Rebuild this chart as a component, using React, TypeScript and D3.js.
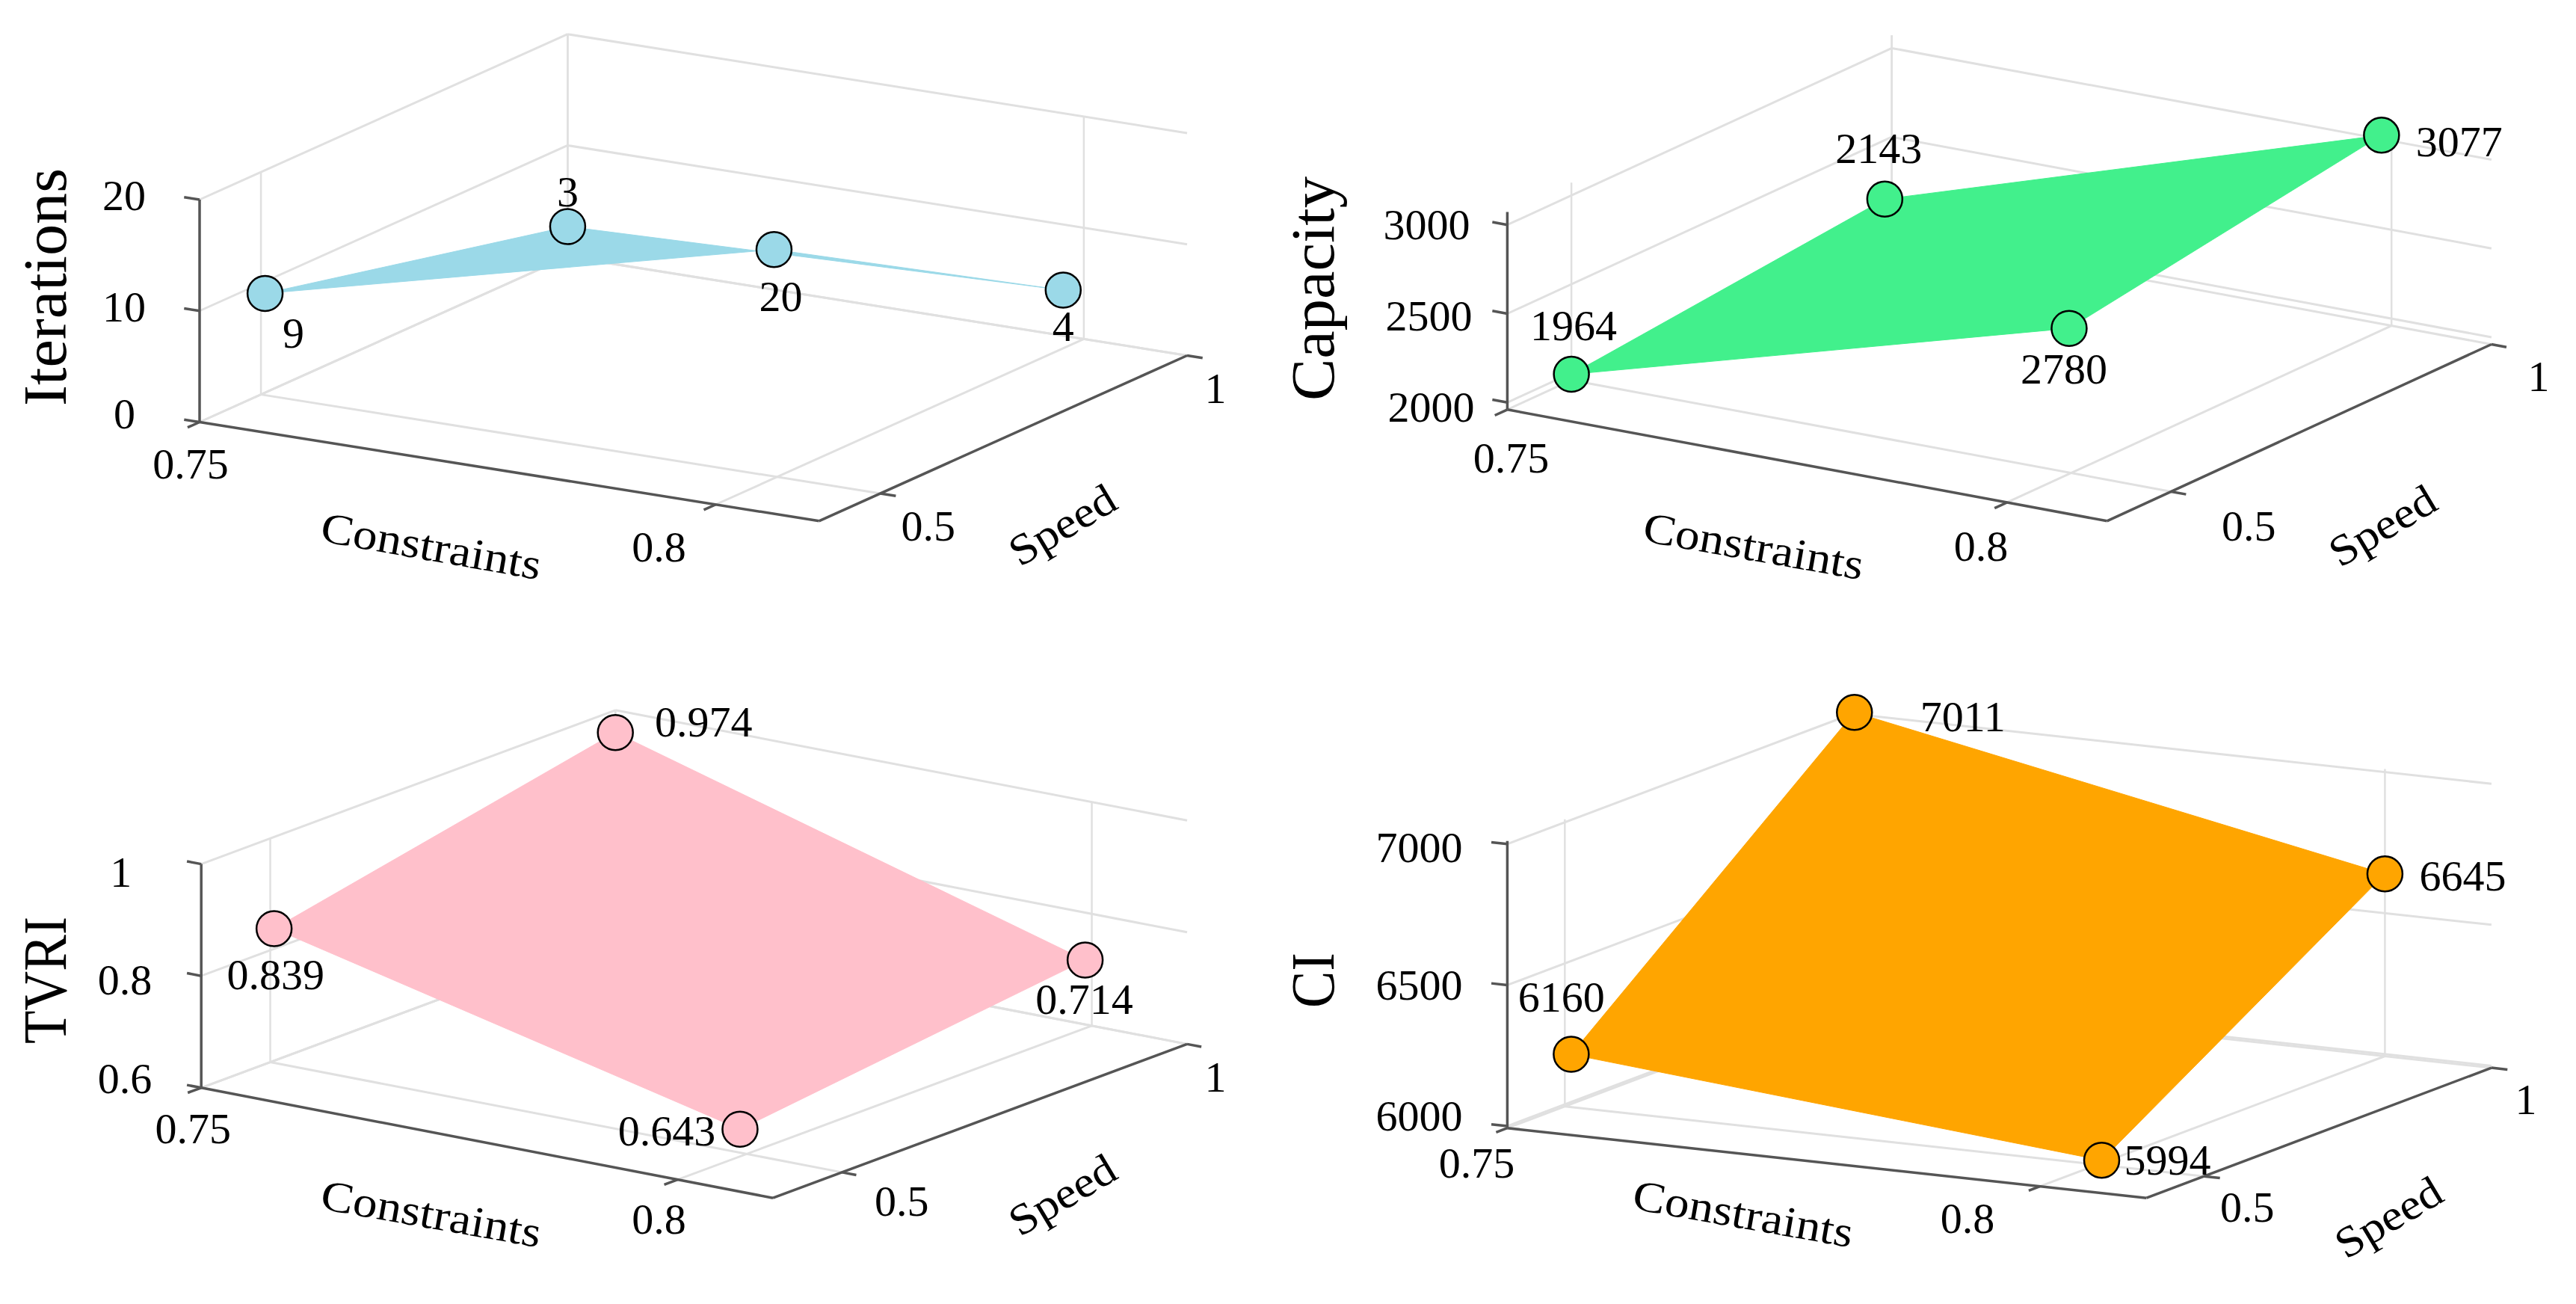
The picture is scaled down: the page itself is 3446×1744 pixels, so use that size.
import React from "react";
import * as d3 from "d3";

const svgWidth = 3446;
const svgHeight = 1744;
const fontFamily = "'Liberation Serif', serif";
const tickFont = 58;
const titleFont = 82;

// same grid in every panel
const constraintDomain = [0.75, 0.81];
const speedDomain = [0.4, 1];
const constraintTicks = [0.75, 0.8];
const speedTicks = [0.5, 1];
const constraintTickLabels = ["0.75", "0.8"];
const speedTickLabels = ["0.5", "1"];

// corner order: (0.75, 0.5), (0.75, 1), (0.8, 0.5), (0.8, 1)
const iterationsConstraints = [0.7504, 0.75, 0.7997, 0.798];
const iterationsSpeed = [0.5, 1, 0.5, 1];
const iterationsHeights = [9.15, 2.7, 20.4, 4.1];
const iterationsLabels = ["9", "3", "20", "4"];
const iterationsTicks = [0, 10, 20];

const capacityConstraints = [0.75, 0.7493, 0.7998, 0.799];
const capacitySpeed = [0.5, 1, 0.5, 1];
const capacityHeights = [1993, 2143, 2772, 3022];
const capacityLabels = ["1964", "2143", "2780", "3077"];
const capacityTicks = [2000, 2500, 3000];

const tvriConstraints = [0.7504, 0.75, 0.7993, 0.7993];
const tvriSpeed = [0.5, 1, 0.5, 1];
const tvriHeights = [0.84, 0.96, 0.642, 0.715];
const tvriLabels = ["0.839", "0.974", "0.643", "0.714"];
const tvriTicks = [0.6, 0.8, 1];

const ciConstraints = [0.7506, 0.7502, 0.8004, 0.8];
const ciSpeed = [0.5, 1, 0.5, 1];
const ciHeights = [6180, 7006, 6010, 6639];
const ciLabels = ["6160", "7011", "5994", "6645"];
const ciTicks = [6000, 6500, 7000];

const panels = [
  {
    title: "Iterations", color: "#9BD9E8", constraints: iterationsConstraints, speed: iterationsSpeed,
    heights: iterationsHeights, labels: iterationsLabels, zTicks: iterationsTicks, zDomain: [0, 20],
    origin: [267, 564.5], right: [1095.6, 696.8], back: [1588, 475.5], top: 267,
    labelOffsets: [[38, 53], [0, -47], [9, 63], [0, 48]],
    zLabelOffsets: [[-86, -11], [-72, -5], [-72, -6]],
    xLabelOffsets: [[-12, 56], [-76, 57]], yLabelOffsets: [[64, 43], [38, 44]],
    titlePos: [60, 384], titleLen: 318, xTitlePos: [577, 730], yTitlePos: [1421, 702],
  },
  {
    title: "Capacity", color: "#42F08C", constraints: capacityConstraints, speed: capacitySpeed,
    heights: capacityHeights, labels: capacityLabels, zTicks: capacityTicks, zDomain: [1960, 3072],
    origin: [2016.4, 547.8], right: [2818.6, 696.8], back: [3332.9, 460.5], top: 283.6,
    labelOffsets: [[3, -65], [-8, -68], [-7, 54], [104, 8]],
    zLabelOffsets: [[-44, 6], [-47, 3], [-50, 0]],
    xLabelOffsets: [[5, 64], [-35, 58]], yLabelOffsets: [[104, 46], [63, 43]],
    titlePos: [1756, 386], titleLen: 300, xTitlePos: [2346, 730], yTitlePos: [3187, 703],
  },
  {
    title: "TVRI", color: "#FFC0CB", constraints: tvriConstraints, speed: tvriSpeed,
    heights: tvriHeights, labels: tvriLabels, zTicks: tvriTicks, zDomain: [0.6, 1],
    origin: [269.2, 1454.8], right: [1034, 1602.2], back: [1588, 1396.4], top: 1155.6,
    labelOffsets: [[2, 61], [118, -14], [-98, 2], [-1, 52]],
    zLabelOffsets: [[-66, -13], [-66, 5], [-93, 11]],
    xLabelOffsets: [[-11, 54], [-25, 53]], yLabelOffsets: [[80, 38], [38, 44]],
    titlePos: [60, 1311], titleLen: 170, xTitlePos: [577, 1623], yTitlePos: [1421, 1598],
  },
  {
    title: "CI", color: "#FFA500", constraints: ciConstraints, speed: ciSpeed,
    heights: ciHeights, labels: ciLabels, zTicks: ciTicks, zDomain: [5993, 7011],
    origin: [2016.4, 1508.7], right: [2871.4, 1602.2], back: [3332.9, 1428.1], top: 1124.7,
    labelOffsets: [[-13, -77], [145, 5], [88, -1], [104, 2]],
    zLabelOffsets: [[-60, -14], [-60, 0], [-60, 4]],
    xLabelOffsets: [[-41, 47], [-97, 43]], yLabelOffsets: [[58, 41], [46, 42]],
    titlePos: [1756, 1311], titleLen: 74, xTitlePos: [2332, 1623], yTitlePos: [3195, 1628],
  },
];

const gridColor = "#e0e0e0";
const axisColor = "#555555";

function Panel({ p }: { p: any }) {
  const x = d3.scaleLinear().domain(constraintDomain).range([0, 1]);
  const y = d3.scaleLinear().domain(speedDomain).range([0, 1]);
  const z = d3.scaleLinear().domain(p.zDomain).range([0, 1]);
  const [ox, oy] = p.origin;
  const ex = [p.right[0] - ox, p.right[1] - oy];
  const ey = [p.back[0] - p.right[0], p.back[1] - p.right[1]];
  const ez = p.top - oy;

  // orthographic projection onto the page
  const project = (cx: number, cy: number, cz: number) => {
    const tx = x(cx), ty = y(cy), tz = z(cz);
    return [ox + ex[0] * tx + ey[0] * ty, oy + ex[1] * tx + ey[1] * ty + ez * tz];
  };
  const [x0, x1] = constraintDomain;
  const [y0, y1] = speedDomain;
  const [z0, z1] = p.zDomain;
  const seg = (a: number[], b: number[], key: string, stroke: string, width: number) => (
    <line key={key} x1={a[0]} y1={a[1]} x2={b[0]} y2={b[1]} stroke={stroke} strokeWidth={width} />
  );

  const grid: any[] = [];
  constraintTicks.forEach((t) => {
    grid.push(seg(project(t, y0, z0), project(t, y1, z0), `fx${t}`, gridColor, 3));
    grid.push(seg(project(t, y1, z0), project(t, y1, z1), `bx${t}`, gridColor, 2.5));
  });
  speedTicks.forEach((t) => {
    grid.push(seg(project(x0, t, z0), project(x1, t, z0), `fy${t}`, gridColor, 3));
    grid.push(seg(project(x0, t, z0), project(x0, t, z1), `ly${t}`, gridColor, 2.5));
  });
  p.zTicks.forEach((t: number) => {
    grid.push(seg(project(x0, y0, t), project(x0, y1, t), `lz${t}`, gridColor, 3));
    grid.push(seg(project(x0, y1, t), project(x1, y1, t), `bz${t}`, gridColor, 3));
  });

  const axes = [
    seg(project(x0, y0, z0), project(x0, y0, z1), "az", axisColor, 3.5),
    seg(project(x0, y0, z0), project(x1, y0, z0), "ax", axisColor, 3.5),
    seg(project(x1, y0, z0), project(x1, y1, z0), "ay", axisColor, 3.5),
  ];
  const tickLen = 0.025;
  constraintTicks.forEach((t) => {
    axes.push(seg(project(t, y0, z0), project(t, y0 - tickLen * 1.3 * (y1 - y0), z0), `tx${t}`, axisColor, 3.5));
  });
  speedTicks.forEach((t) => {
    axes.push(seg(project(x1, t, z0), project(x1 + tickLen * (x1 - x0), t, z0), `ty${t}`, axisColor, 3.5));
  });
  p.zTicks.forEach((t: number) => {
    axes.push(seg(project(x0, y0, t), project(x0 - tickLen * (x1 - x0), y0, t), `tz${t}`, axisColor, 3.5));
  });

  const pts = p.heights.map((h: number, i: number) => project(p.constraints[i], p.speed[i], h));
  // walk the four corners round the sheet
  const surface = d3.line()([pts[0], pts[1], pts[3], pts[2]]) + "Z";

  const text = (s: string, at: number[], key: string, size = tickFont, anchor = "middle") => (
    <text key={key} x={at[0]} y={at[1]} dy="0.34em" fontSize={size} textAnchor={anchor} fill="#000">{s}</text>
  );

  const xAngle = 10;
  const yAngle = -31;

  return (
    <g fontFamily={fontFamily}>
      {grid}
      {axes}
      <path d={surface} fill={p.color} stroke={p.color} strokeWidth={1} />
      {pts.map((c: number[], i: number) => (
        <circle key={i} cx={c[0]} cy={c[1]} r={23.5} fill={p.color} stroke="#000" strokeWidth={2.5} />
      ))}
      {pts.map((c: number[], i: number) =>
        text(p.labels[i], [c[0] + p.labelOffsets[i][0], c[1] + p.labelOffsets[i][1]], `v${i}`)
      )}
      {p.zTicks.map((t: number, i: number) => {
        const at = project(x0, y0, t);
        return text(String(t), [at[0] + p.zLabelOffsets[i][0], at[1] + p.zLabelOffsets[i][1]], `zl${i}`, tickFont, "end");
      })}
      {constraintTicks.map((t, i) => {
        const at = project(t, y0, z0);
        return text(constraintTickLabels[i], [at[0] + p.xLabelOffsets[i][0], at[1] + p.xLabelOffsets[i][1]], `xl${i}`);
      })}
      {speedTicks.map((t, i) => {
        const at = project(x1, t, z0);
        return text(speedTickLabels[i], [at[0] + p.yLabelOffsets[i][0], at[1] + p.yLabelOffsets[i][1]], `yl${i}`);
      })}
      <text
        transform={`translate(${p.titlePos[0]},${p.titlePos[1]}) rotate(-90)`}
        dy="0.34em" fontSize={titleFont} textAnchor="middle"
        textLength={p.titleLen} lengthAdjust="spacingAndGlyphs"
      >
        {p.title}
      </text>
      <text
        transform={`translate(${p.xTitlePos[0]},${p.xTitlePos[1]}) rotate(${xAngle})`}
        dy="0.34em" fontSize={tickFont} textAnchor="middle"
        textLength={298} lengthAdjust="spacingAndGlyphs"
      >
        Constraints
      </text>
      <text
        transform={`translate(${p.yTitlePos[0]},${p.yTitlePos[1]}) rotate(${yAngle})`}
        dy="0.34em" fontSize={tickFont} textAnchor="middle"
        textLength={156} lengthAdjust="spacingAndGlyphs"
      >
        Speed
      </text>
    </g>
  );
}

export default function App() {
  return (
    <svg
      width={svgWidth}
      height={svgHeight}
      style={{ position: "absolute", left: 0, top: 0, background: "#fff" }}
    >
      {panels.map((p) => (
        <Panel key={p.title} p={p} />
      ))}
    </svg>
  );
}
